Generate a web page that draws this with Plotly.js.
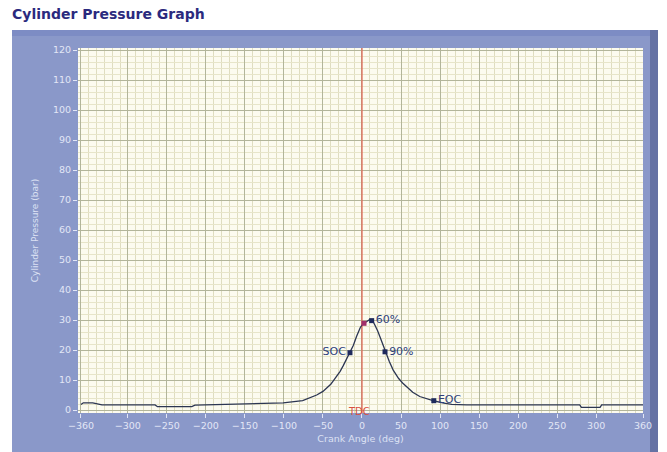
<!DOCTYPE html>
<html>
<head>
<meta charset="utf-8">
<script src="https://cdn.plot.ly/plotly-3.0.1.min.js"></script>
<style>html,body{margin:0;padding:0;background:#fff;}#chart{width:667px;height:452px;}</style>
</head>
<body>
<div id="chart"></div>
<script>
// Crank angle (deg) and cylinder pressure (bar)
const crankAngle = [-360, -357, -345, -333, -300, -265, -262, -218, -214, -156, -101, -76, -58, -50, -45, -40, -37, -32, -28, -24, -20, -15, -11, -7, -4, -2, 1, 3, 5, 7, 10, 12, 14, 16, 18, 20, 23, 27, 30, 35, 40, 47, 52, 57, 65, 74, 84, 93, 105, 115, 134, 160, 200, 250, 279, 281, 305, 307, 330, 360];
const pressure   = [1.8, 2.4, 2.4, 1.7, 1.7, 1.7, 1.1, 1.1, 1.6, 2.0, 2.4, 3.1, 5.0, 6.2, 7.3, 8.6, 9.6, 11.3, 12.9, 14.8, 16.8, 19.1, 21.6, 24.5, 26.6, 27.6, 28.6, 29.0, 29.4, 29.8, 30.2, 30.0, 29.6, 28.6, 27.6, 26.4, 24.4, 21.6, 19.4, 16.2, 13.3, 10.5, 9.0, 7.8, 5.9, 4.5, 3.6, 3.0, 2.3, 1.9, 1.7, 1.7, 1.7, 1.7, 1.7, 0.9, 0.9, 1.7, 1.7, 1.7];

// Event markers
const eventAngles    = [-15.4, 2.6, 12.4, 29.5, 92];
const eventPressures = [19.1, 28.9, 29.8, 19.4, 3.1];
const eventLabels    = ['SOC', '', '60%', '90%', 'EOC'];

// TDC reference
const tdcAngle = 0;
const tdcLabel = 'TDC';

// Axis ticks
const xTickVals = [-360, -300, -250, -200, -150, -100, -50, 0, 50, 100, 150, 200, 250, 300, 360];
const yTickVals = [0, 10, 20, 30, 40, 50, 60, 70, 80, 90, 100, 110, 120];

const W = 667, H = 452;
const L = 78, R = 24, T = 48, B = 39;
const pw = W - L - R, ph = H - T - B;
const px2x = p => (p - L) / pw;
const py2y = p => (H - B - p) / ph;

const font = 'DejaVu Sans, Verdana, sans-serif';
const tickCol = '#e2e6f6';
const plotBg = '#fcfbef';

const traces = [
  {
    x: [tdcAngle, tdcAngle], y: [-1, 121], mode: 'lines',
    line: {color: '#e06a58', width: 1.3}, hoverinfo: 'skip', showlegend: false
  },
  {
    x: crankAngle, y: pressure, mode: 'lines',
    line: {color: '#2c3652', width: 1.3}, showlegend: false
  },
  {
    x: eventAngles, y: eventPressures, mode: 'markers+text',
    text: eventLabels,
    textposition: ['middle left', 'middle right', 'middle right', 'middle right', 'middle right'],
    textfont: {family: font, size: 11, color: '#2e3f7c'},
    marker: {symbol: 'square', size: 5, color: ['#1e2a5c', '#a0306a', '#1e2a5c', '#1e2a5c', '#1e2a5c']},
    showlegend: false
  }
];

const layout = {
  width: W, height: H,
  margin: {l: L, r: R, t: T, b: B, pad: 0},
  paper_bgcolor: '#ffffff',
  plot_bgcolor: plotBg,
  title: {
    text: '<b>Cylinder Pressure Graph</b>',
    font: {family: font, size: 14, color: '#2b2a7e'},
    xref: 'container', yref: 'container',
    x: 12 / W, xanchor: 'left',
    y: 1 - 14 / H, yanchor: 'middle'
  },
  xaxis: {
    range: [-363.8, 360],
    tickmode: 'array', tickvals: xTickVals,
    ticks: 'outside', ticklen: 4, tickcolor: tickCol,
    tickfont: {family: font, size: 9.5, color: tickCol},
    showgrid: true, gridcolor: '#b2b59a', gridwidth: 1,
    zeroline: false, showline: false,
    minor: {tickmode: 'linear', tick0: 0, dtick: 10, showgrid: true, gridcolor: '#dfddc0', ticks: ''},
    title: {text: 'Crank Angle (deg)', font: {family: font, size: 9.5, color: '#dde2f4'}, standoff: 4},
    fixedrange: true
  },
  yaxis: {
    range: [-1, 120.7],
    tickmode: 'array', tickvals: yTickVals,
    ticks: 'outside', ticklen: 4, tickcolor: tickCol,
    tickfont: {family: font, size: 9.5, color: tickCol},
    showgrid: true, gridcolor: '#b2b59a', gridwidth: 1,
    zeroline: false, showline: false,
    minor: {tickmode: 'linear', tick0: 0, dtick: 2, showgrid: true, gridcolor: '#e7e5c9', ticks: ''},
    title: {text: 'Cylinder Pressure (bar)', font: {family: font, size: 9, color: '#dde2f4'}, standoff: 12},
    fixedrange: true
  },
  shapes: [
    {type: 'rect', xref: 'paper', yref: 'paper', layer: 'below',
     x0: px2x(12), x1: px2x(658), y0: py2y(452), y1: py2y(30),
     fillcolor: '#8a98c9', line: {width: 0}},
    {type: 'rect', xref: 'paper', yref: 'paper', layer: 'below',
     x0: px2x(650), x1: px2x(658), y0: py2y(452), y1: py2y(30),
     fillcolor: '#6572a4', line: {width: 0}},
    {type: 'rect', xref: 'paper', yref: 'paper', layer: 'below',
     x0: px2x(12), x1: px2x(650), y0: py2y(36), y1: py2y(30),
     fillcolor: '#7d8cc4', line: {width: 0}},
    {type: 'rect', xref: 'paper', yref: 'paper', layer: 'below',
     x0: 0, x1: 1, y0: 0, y1: 1,
     fillcolor: plotBg, line: {width: 0}}
  ],
  annotations: [
    {x: tdcAngle, y: 0, xref: 'x', yref: 'y', text: tdcLabel, showarrow: false,
     xanchor: 'center', yanchor: 'middle', xshift: -3, yshift: -1,
     font: {family: font, size: 10, color: '#d8503e'}}
  ]
};

Plotly.newPlot('chart', traces, layout, {staticPlot: true, displayModeBar: false});
</script>
</body>
</html>
